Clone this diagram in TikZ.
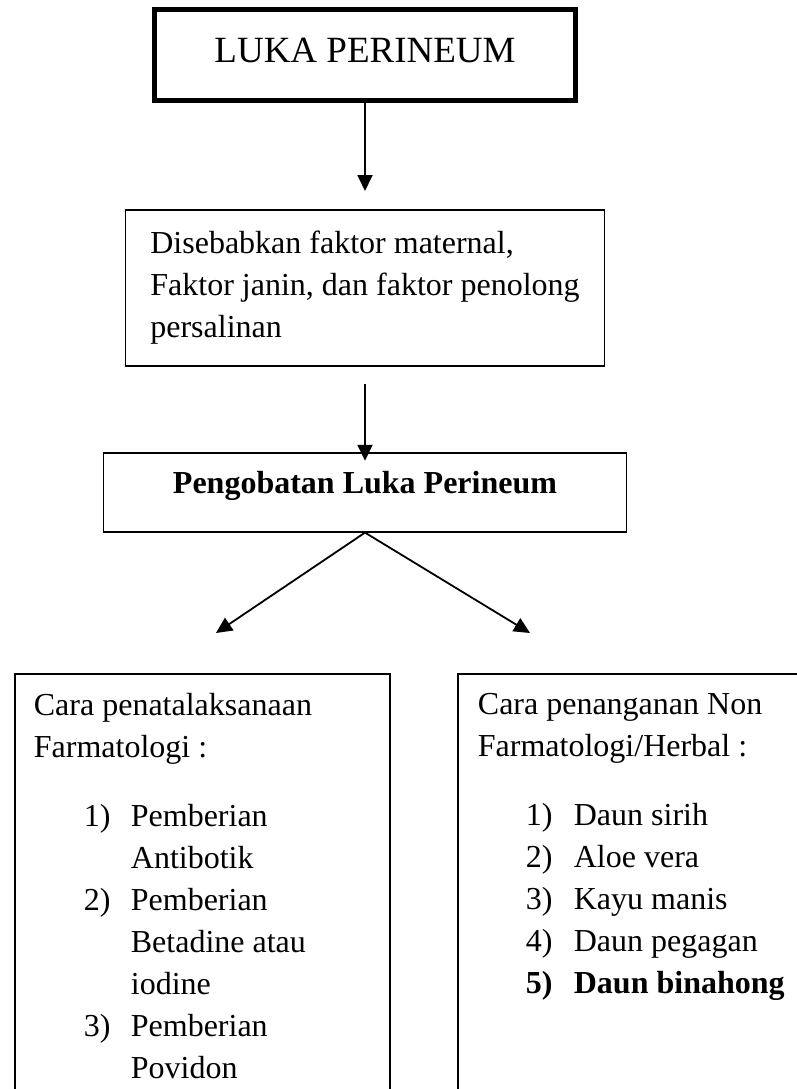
\documentclass[tikz,border=0pt]{standalone}
\usepackage{fontspec}
\setmainfont{Liberation Serif}
\usetikzlibrary{arrows.meta}

\begin{document}
\begin{tikzpicture}[x=1pt,y=1pt,
  kotak/.style={rectangle,draw,line width=1.8pt,inner sep=0pt},
  panah/.style={line width=1.8pt,-{Triangle[length=16pt,width=15pt]}},
  font=\fontsize{32}{42}\selectfont]
\useasboundingbox (0,0) rectangle (797,-1089);

\node [kotak,line width=4pt,minimum width=422pt,minimum height=92pt,text height=16pt,text depth=0pt,font=\fontsize{37}{44}\selectfont] (luka) at (365,-55) {LUKA PERINEUM};
\draw [line width=1.2pt] ([shift={(4.5,-4.5)}]luka.north west) rectangle ([shift={(-4.5,4.5)}]luka.south east);

\node [kotak,align=left,minimum width=479pt,minimum height=156pt,below=106pt,at=(luka.south)] (sebab) {Disebabkan faktor maternal,\\ Faktor janin, dan faktor penolong\\ persalinan};

\node [kotak,minimum width=523pt,minimum height=79pt,text height=10pt,text depth=7pt,below=85pt,at=(sebab.south)] (obat) {\textbf{Pengobatan Luka Perineum}};

\node [kotak,anchor=north west,inner xsep=19pt,inner ysep=19pt] (farma) at (14,-673) {\parbox[t][440pt][t]{337pt}{Cara penatalaksanaan\\ Farmatologi :\\[27pt]
\hspace*{50pt}\makebox[47pt][l]{1)}Pemberian\\
\hspace*{97pt}Antibotik\\
\hspace*{50pt}\makebox[47pt][l]{2)}Pemberian\\
\hspace*{97pt}Betadine atau\\
\hspace*{97pt}iodine\\
\hspace*{50pt}\makebox[47pt][l]{3)}Pemberian\\
\hspace*{97pt}Povidon}};

\node [kotak,anchor=north west,inner xsep=20pt,inner ysep=19pt] (herbal) at (457,-673) {\parbox[t][440pt][t]{420pt}{Cara penanganan Non\\ Farmatologi/Herbal :\\[27pt]
\hspace*{48pt}\makebox[48pt][l]{1)}Daun sirih\\
\hspace*{48pt}\makebox[48pt][l]{2)}Aloe vera\\
\hspace*{48pt}\makebox[48pt][l]{3)}Kayu manis\\
\hspace*{48pt}\makebox[48pt][l]{4)}Daun pegagan\\
\hspace*{48pt}\makebox[48pt][l]{\textbf{5)}}\textbf{Daun binahong}}};

\coordinate (ujungkiri) at (216,-633);
\coordinate (ujungkanan) at (530,-633);

\draw [panah,shorten >=18pt] (luka.south) -- (luka.south |- sebab.north);
\draw [panah,shorten <=17pt,shorten >=-9pt] (sebab.south) -- (sebab.south |- obat.north);
\draw [panah] (obat.south) -- (ujungkiri);
\draw [panah] (obat.south) -- (ujungkanan);
\end{tikzpicture}
\end{document}
